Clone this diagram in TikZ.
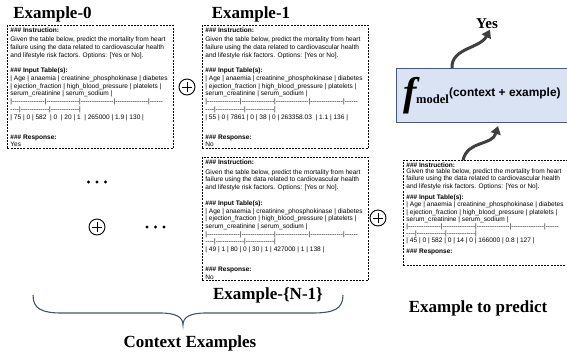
\documentclass[tikz,border=0pt]{standalone}
\usepackage{fontspec}
\setmainfont{Liberation Serif}
\newfontfamily\boxfont{Liberation Sans}
\usetikzlibrary{arrows.meta,calc}
\definecolor{fmfill}{RGB}{218,227,243}
\definecolor{fmdraw}{RGB}{68,90,130}
\definecolor{bracec}{RGB}{68,84,106}
\definecolor{arrowc}{RGB}{64,64,64}

\newcommand\dsh{-\kern0pt}
\newcommand\dthirteen{\dsh\dsh\dsh\dsh\dsh\dsh\dsh\dsh\dsh\dsh\dsh\dsh\dsh}
\newcommand\dfifteen{\dthirteen\dsh\dsh}
\newcommand\dashrowA{|\dfifteen|\dfifteen|\dfifteen|\dfifteen|\dsh\dsh\dsh\dsh\dsh\dsh}
\newcommand\dashrowB{\dsh\dsh\dsh\dsh|\dthirteen|\dthirteen|}
% #1 top skip, #2 baselineskip, #3 #4 #5 extra gaps, #6 data row, #7 response, #8 height
\newcommand\exbox[8]{%
 \vbox to #8{\vskip#1\hbox to 166pt{\hskip3pt\boxfont\fontsize{6.55}{#2}\selectfont
 \begin{tabular}[t]{@{}l@{}}
 \textbf{\#\#\# Instruction:}\\[#3]
 Given the table below, predict the mortality from heart\\
 failure using the data related to cardiovascular health\\
 and lifestyle risk factors. Options: [Yes or No].\\[#4]
 \textbf{\#\#\# Input Table(s):}\\
 | Age | anaemia | creatinine\_phosphokinase | diabetes\\
 | ejection\_fraction | high\_blood\_pressure | platelets |\\
 serum\_creatinine | serum\_sodium |\\
 \dashrowA\\
 \dashrowB\\
 #6\\[#5]
 \textbf{\#\#\# Response:}#7
 \end{tabular}\hfil}\vfil}}

\tikzset{
  exnode/.style={draw, dash pattern=on 2pt off 1.2pt, line width=0.8pt, inner sep=0pt},
  titlef/.style={font=\fontsize{17}{17}\selectfont\bfseries, inner sep=1pt},
  pluscirc/.style={circle, draw, line width=0.9pt, minimum size=16pt, inner sep=0pt,
    path picture={\draw[line width=0.9pt]
      ([xshift=3.2pt]path picture bounding box.west) -- ([xshift=-3.2pt]path picture bounding box.east)
      ([yshift=-3.2pt]path picture bounding box.north) -- ([yshift=3.2pt]path picture bounding box.south);}},
  fmbox/.style={draw=fmdraw, fill=fmfill, line width=1pt, inner sep=0pt},
  flowarrow/.style={draw=arrowc, line width=3pt, -{Triangle[length=8pt,width=10pt]}},
}

\begin{document}
\begin{tikzpicture}[x=1pt,y=-1pt]
\useasboundingbox (0,0) rectangle (567,354);

% titles
\node[titlef, anchor=base] (e0) at (52.5,18.3) {Example-0};
\node[titlef, anchor=base] (e1) at (251,18.3) {Example-1};
\node[titlef, anchor=base] (eN) at (268,299.5) {Example-\{N-1\}};
\node[titlef, anchor=base] (ep) at (478,312.7) {Example to predict};
\node[titlef, anchor=base] (ctx) at (190,347.7) {Context Examples};
\node[titlef, font=\fontsize{15}{15}\selectfont\bfseries, anchor=base] (yes) at (487,28.3) {Yes};

% example boxes
\node[exnode, anchor=north west] (b0) at (7,25)
  {\exbox{1.3pt}{7.7}{2pt}{8pt}{12.3pt}{| 75 | 0 | 582\ \ | 0\ \ | 20 | 1\ \ | 265000 | 1.9 | 130 |}{\\Yes}{123pt}};
\node[exnode, anchor=north west] (b1) at (202,25)
  {\exbox{1.3pt}{7.7}{2pt}{8pt}{12.3pt}{| 55 | 0 | 7861 | 0 | 38 | 0 | 263358.03\ \ | 1.1 | 136 |}{\\No}{123pt}};
\node[exnode, anchor=north west] (bN) at (202,157)
  {\exbox{1.8pt}{7.7}{2pt}{8pt}{12.3pt}{| 49 | 1 | 80 | 0 | 30 | 1 | 427000 | 1 | 138 |}{\\No}{123pt}};
\node[exnode, anchor=north west] (pb) at (403,160)
  {\exbox{1.6pt}{7.15}{-0.45pt}{4.55pt}{3.55pt}{| 45 | 0 | 582 | 0 | 14 | 0 | 166000 | 0.8 | 127 |}{}{105pt}};

% plus signs
\node[pluscirc] (p1) at (187,87) {};
\node[pluscirc] (p2) at (378,218) {};
\node[pluscirc] (p3) at (97,227) {};

% ellipsis dots
\foreach \x in {88.5,97,105.5} \fill (\x,182) circle (1.7pt);
\foreach \x in {147,155.5,164} \fill (\x,227) circle (1.7pt);

% model box
\node[fmbox, anchor=north west, minimum width=171pt, minimum height=54pt, text height=27pt, text depth=8pt] (fm) at (396,68)
  {{\fontsize{40}{40}\selectfont\bfseries\itshape f}\kern-0.5pt\raisebox{2pt}{\fontsize{12.5}{12.5}\selectfont\bfseries model}\kern0.3pt\raisebox{9pt}{\boxfont\bfseries\fontsize{11.9}{11.9}\selectfont (context + example)}};

% arrows
\draw[flowarrow] ($(fm.north west)+(56,0)$) .. controls +(-1,-20) and +(-10,19) .. ($(yes.south)+(3,0)$);
\draw[flowarrow] ($(pb.north west)+(60,0)$) .. controls +(5,-20) and +(-6,20) .. ($(fm.south west)+(102,3)$);

% brace
\draw[bracec, line width=1.1pt] (33,295) .. controls (33,309) and (42,313) .. (62,313) -- (160,313)
  .. controls (176,313) and (183,317) .. (183,325)
  .. controls (183,317) and (190,313) .. (206,313) -- (312,313)
  .. controls (334,313) and (343,309) .. (343,295);
\end{tikzpicture}
\end{document}
